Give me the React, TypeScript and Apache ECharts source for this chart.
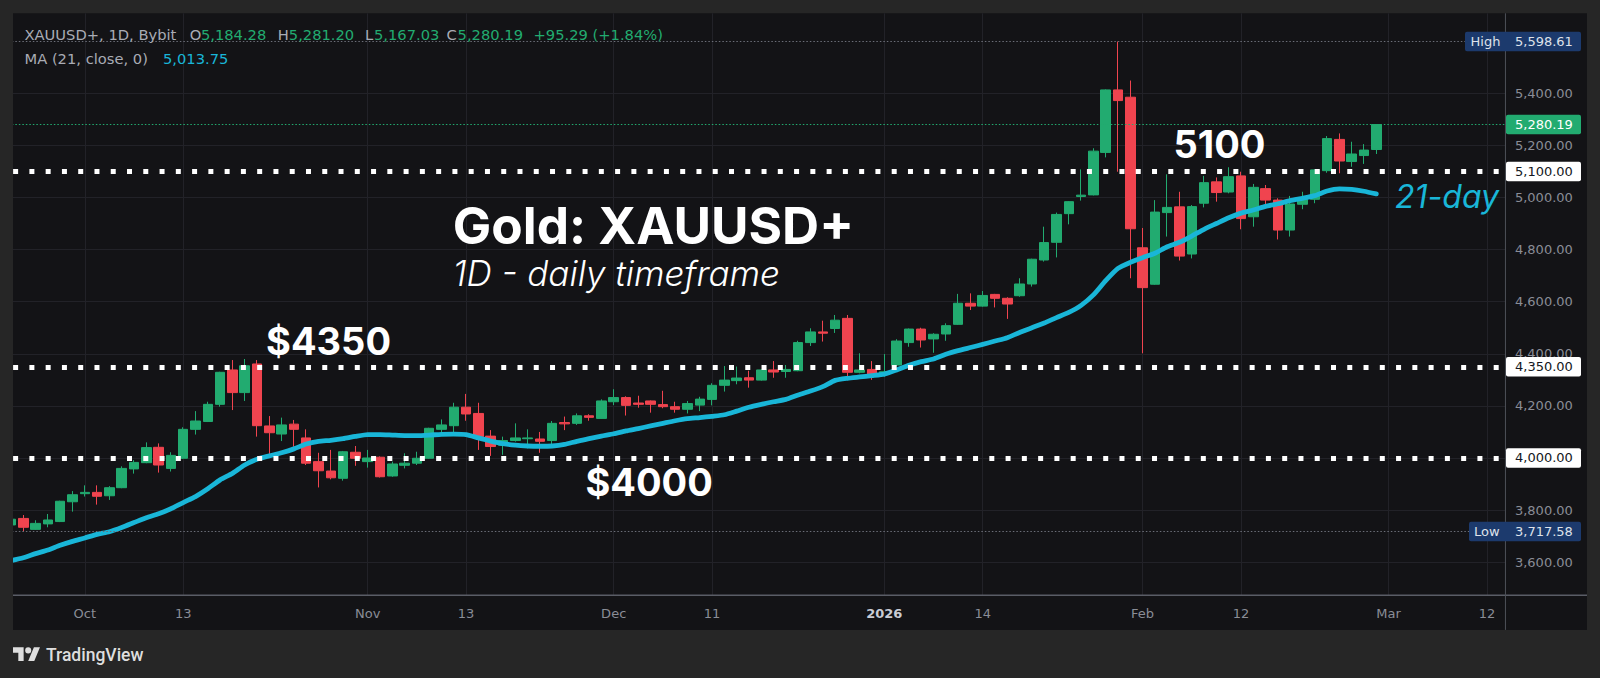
import React, { useEffect, useRef } from "react";
import * as echarts from "echarts";

// ---------- DATA ----------
const dates: string[] = [
  "2025-09-23","2025-09-24","2025-09-25","2025-09-26","2025-09-29","2025-09-30",
  "2025-10-01","2025-10-02","2025-10-03","2025-10-06","2025-10-07","2025-10-08","2025-10-09","2025-10-10",
  "2025-10-13","2025-10-14","2025-10-15","2025-10-16","2025-10-17",
  "2025-10-20","2025-10-21","2025-10-22","2025-10-23","2025-10-24",
  "2025-10-27","2025-10-28","2025-10-29","2025-10-30","2025-10-31",
  "2025-11-03","2025-11-04","2025-11-05","2025-11-06","2025-11-07",
  "2025-11-10","2025-11-11","2025-11-12","2025-11-13","2025-11-14",
  "2025-11-17","2025-11-18","2025-11-19","2025-11-20","2025-11-21",
  "2025-11-24","2025-11-25","2025-11-26","2025-11-27","2025-11-28",
  "2025-12-01","2025-12-02","2025-12-03","2025-12-04","2025-12-05",
  "2025-12-08","2025-12-09","2025-12-10","2025-12-11","2025-12-12",
  "2025-12-15","2025-12-16","2025-12-17","2025-12-18","2025-12-19",
  "2025-12-22","2025-12-23","2025-12-24","2025-12-26",
  "2025-12-29","2025-12-30","2025-12-31","2026-01-02",
  "2026-01-05","2026-01-06","2026-01-07","2026-01-08","2026-01-09",
  "2026-01-12","2026-01-13","2026-01-14","2026-01-15","2026-01-16",
  "2026-01-19","2026-01-20","2026-01-21","2026-01-22","2026-01-23",
  "2026-01-26","2026-01-27","2026-01-28","2026-01-29","2026-01-30",
  "2026-02-02","2026-02-03","2026-02-04","2026-02-05","2026-02-06",
  "2026-02-09","2026-02-10","2026-02-11","2026-02-12","2026-02-13",
  "2026-02-16","2026-02-17","2026-02-18","2026-02-19","2026-02-20",
  "2026-02-23","2026-02-24","2026-02-25","2026-02-26","2026-02-27",
  "2026-03-02","2026-03-03","2026-03-04","2026-03-05","2026-03-06",
  "2026-03-09","2026-03-10","2026-03-11","2026-03-12","2026-03-13",
];

const opens: number[] = [
  3743,3768,3726,3747,3756,3832,3863,3868,3855,3886,
  3958,3982,4041,3960,3999,4110,4140,4206,4338,4251,
  4361,4123,4092,4130,4077,3986,3950,3922,4022,3986,
  4003,3931,3972,3980,3999,4110,4124,4195,4171,4084,
  4049,4067,4074,4073,4067,4136,4133,4162,4152,4216,
  4232,4211,4219,4205,4197,4187,4203,4225,4279,4297,
  4308,4299,4338,4332,4335,4443,4484,4497,4536,4329,
  4340,4325,4357,4443,4495,4457,4476,4513,4594,4583,
  4628,4613,4623,4668,4760,4828,4938,5004,5010,5173,
  5413,5385,4807,4667,4942,4964,4783,4978,5060,5021,
  5083,4926,5034,4990,4875,4974,4993,5103,5223,5138,
  5161,5184.28,
];

const closes: number[] = [
  3765,3734,3749,3762,3834,3859,3868,3853,3886,3960,
  3983,4040,3973,4010,4110,4142,4206,4329,4251,4354,
  4124,4097,4127,4110,3980,3951,3924,4024,3999,4000,
  3928,3977,3980,3999,4114,4127,4195,4169,4082,4044,
  4067,4077,4077,4064,4133,4131,4162,4156,4219,4232,
  4202,4206,4206,4197,4187,4209,4226,4279,4299,4307,
  4299,4338,4330,4340,4443,4484,4479,4529,4329,4338,
  4316,4331,4449,4495,4453,4475,4508,4594,4583,4624,
  4613,4591,4668,4763,4827,4935,4984,5009,5178,5413,
  5372,4880,4654,4944,4962,4775,4965,5057,5019,5080,
  4919,5039,4990,4875,4975,4993,5106,5226,5140,5167,
  5182,5280.19,
];

const lows: number[] = [
  3735,3717.58,3724,3734,3754,3794,3852,3821,3839,3884,
  3940,3980,3944,3948,3996,4090,4138,4197,4184,4219,
  4082,4005,4065,4043,3973,3887,3918,3913,3970,3963,
  3925,3928,3960,3973,3997,4097,4097,4143,4031,4008,
  4012,4063,4037,4020,4041,4107,4127,4143,4151,4203,
  4163,4193,4174,4191,4174,4171,4180,4202,4255,4283,
  4270,4297,4308,4308,4333,4430,4447,4480,4299,4325,
  4300,4312,4355,4427,4424,4404,4450,4511,4568,4581,
  4578,4534,4619,4658,4754,4770,4897,4988,5008,5154,
  5099,4690,4402,4665,4850,4758,4766,4962,4984,5016,
  4878,4888,4965,4839,4850,4955,4978,5095,5093,5118,
  5129,5167.03,
];

const highs: number[] = [
  3770,3781,3761,3785,3836,3873,3895,3895,3892,3968,
  3992,4060,4056,4022,4118,4180,4216,4331,4376,4380,
  4376,4161,4155,4146,4110,4020,4031,4027,4046,4031,
  4006,3986,4018,4024,4116,4148,4212,4246,4212,4107,
  4082,4133,4110,4100,4142,4159,4171,4168,4225,4264,
  4237,4239,4221,4258,4216,4219,4235,4287,4353,4351,
  4335,4340,4372,4357,4450,4498,4527,4549,4549,4402,
  4372,4399,4456,4497,4500,4479,4517,4630,4632,4641,
  4630,4617,4690,4765,4888,4942,4986,5108,5189,5415,
  5598.61,5449,4883,4990,5089,5022,4971,5083,5077,5116,
  5099,5052,5048,4997,5006,5022,5108,5236,5246,5214,
  5205,5281.2,
];

const ma21: number[] = [
  3606,3617,3633,3647,3665,3680,3693,3707,3717,3733,
  3752,3771,3786,3805,3829,3852,3882,3916,3941,3973,
  3995,4008,4020,4035,4054,4064,4068,4074,4083,4090,
  4090,4088,4086,4086,4088,4091,4092,4090,4077,4065,
  4055,4049,4046,4045,4046,4052,4064,4074,4084,4093,
  4104,4113,4123,4133,4143,4151,4155,4160,4166,4180,
  4195,4206,4216,4225,4242,4257,4274,4298,4306,4311,
  4316,4322,4338,4356,4370,4380,4398,4412,4424,4436,
  4449,4462,4482,4500,4518,4539,4559,4586,4626,4681,
  4728,4751,4769,4786,4811,4828,4852,4878,4900,4922,
  4940,4952,4966,4976,4988,4997,5007,5025,5033,5031,
  5024,5013.75,
];

const tickDates: string[] = [
  "2025-10-01","2025-10-13","2025-11-03","2025-11-13","2025-12-01","2025-12-11",
  "2026-01-02","2026-01-14","2026-02-02","2026-02-12","2026-03-02","2026-03-12",
];
const tickLabels: string[] = ["Oct","13","Nov","13","Dec","11","2026","14","Feb","12","Mar","12"];
const priceTicks: number[] = [3600,3800,4000,4200,4400,4600,4800,5000,5200,5400];
const supportLevels: number[] = [5100, 4350, 4000];
const supportTexts: { text: string; level: number }[] = [
  { text: "5100", level: 5100 },
  { text: "$4350", level: 4350 },
  { text: "$4000", level: 4000 },
];
const highValue = 5598.61;
const lowValue = 3717.58;
const lastClose = 5280.19;

// ---------- STYLE ----------
const OUTER = "#262626";
const PANEL = "#131316";
const GRID = "#222228";
const UP = "#22ab70";
const DOWN = "#f0444f";
const CYAN = "#19b6d8";
const AXIS_TXT = "#8a8d96";
const HEAD_TXT = "#a9acb5";
const NAVY = "#1c3a6d";
const FONT_UI = '"DejaVu Sans", sans-serif';
const FONT_ANN = 'Inter, "Noto Sans", sans-serif';

const AXIS_X = 1505.45;
const AXIS_Y = 595.3;

echarts.graphic.registerShape(
  "tvlogo",
  echarts.graphic.extendPath(
    "M14 22H7V11H0V4h14v18zM28 22h-8l7.5-18h8L28 22zM24 8a4 4 0 1 1-8 0a4 4 0 1 1 8 0z",
    {}
  )
);

function fmt(v: number): string {
  const s = v.toFixed(2);
  const [i, d] = s.split(".");
  return i.replace(/\B(?=(\d{3})+(?!\d))/g, ",") + "." + d;
}

function txt(
  text: string, x: number, y: number, fill: string, size: number, family: string,
  weight: string = "normal", fstyle: string = "normal", z: number = 40
) {
  return {
    type: "text", z, silent: true,
    style: {
      text, x, y, fill, fontSize: size, lineHeight: size, fontFamily: family, fontWeight: weight, fontStyle: fstyle,
      align: "left", verticalAlign: "middle", textAlign: "left", textVerticalAlign: "middle",
    },
  };
}

function rect(x: number, y: number, w: number, h: number, fill: string, z: number, r = 0) {
  return { type: "rect", z, silent: true, shape: { x, y, width: w, height: h, r }, style: { fill } };
}

function buildOption() {
  const candles = opens.map((o, i) => [o, closes[i], lows[i], highs[i]]);
  const dotted = { width: 1, type: [1.5, 2] as number[] };
  return {
    animation: false,
    backgroundColor: "transparent",
    grid: { left: 4.85, right: 1600 - AXIS_X, top: 13.3, bottom: 678 - AXIS_Y, outerBoundsMode: "none" },
    xAxis: {
      type: "category",
      data: dates,
      boundaryGap: true,
      axisLine: { show: false },
      axisTick: { show: false },
      splitLine: { show: false },
      axisLabel: {
        interval: (_i: number, v: string) => tickDates.indexOf(v) >= 0,
        formatter: (v: string) => {
          const k = tickDates.indexOf(v);
          if (k < 0) return "";
          return tickLabels[k] === "2026" ? "{b|2026}" : tickLabels[k];
        },
        color: AXIS_TXT,
        fontFamily: FONT_UI,
        fontSize: 13,
        lineHeight: 13,
        margin: 11.5,
        rich: {
          b: { fontWeight: "bold", color: "#c9ccd4", fontFamily: FONT_UI, fontSize: 13, lineHeight: 13 },
        },
      },
    },
    yAxis: {
      type: "value",
      position: "right",
      min: 3472.9,
      max: 5707.1,
      axisLine: { show: false },
      axisTick: { show: false },
      splitLine: { show: false },
      axisLabel: {
        customValues: priceTicks,
        formatter: (v: number) => fmt(v),
        color: AXIS_TXT,
        fontFamily: FONT_UI,
        fontSize: 13,
        margin: 9.5,
      },
    },
    series: [
      {
        type: "candlestick",
        data: candles,
        barWidth: 10,
        z: 2,
        silent: true,
        itemStyle: { color: UP, color0: DOWN, borderColor: UP, borderColor0: DOWN, borderWidth: 1 },
        markLine: {
          silent: true,
          symbol: "none",
          z: 1,
          animation: false,
          label: { show: false },
          lineStyle: { color: GRID, width: 1, type: "solid" },
          data: [
            ...priceTicks.map((v) => ({ yAxis: v })),
            ...tickDates.map((d) => ({ xAxis: d })),
          ],
        },
      },
      {
        type: "line",
        data: ma21,
        showSymbol: false,
        symbol: "none",
        smooth: 0.2,
        z: 3,
        silent: true,
        lineStyle: { color: CYAN, width: 4.8, cap: "round", join: "round" },
        markLine: {
          silent: true,
          symbol: "none",
          z: 6,
          animation: false,
          label: { show: false },
          data: [
            { yAxis: highValue, lineStyle: { color: "#6b6e78", ...dotted } },
            { yAxis: lowValue, lineStyle: { color: "#6b6e78", ...dotted } },
            { yAxis: lastClose, lineStyle: { color: UP, ...dotted } },
            ...supportLevels.map((v) => ({
              yAxis: v,
              lineStyle: { color: "#ffffff", width: 5, type: [5, 11.27], dashOffset: 7.62, cap: "butt" },
            })),
          ],
        },
      },
    ],
  };
}

function buildGraphics(py: (v: number) => number) {
  const els: any[] = [];
  // panel
  els.push(rect(13, 13.3, 1574, 616.7, PANEL, -10));
  // left cover (hides the partially drawn first bar outside the panel)
  els.push(rect(0, 0, 13, 678, OUTER, 100));
  // axis lines
  els.push({ type: "line", z: 20, silent: true, shape: { x1: 13, y1: AXIS_Y, x2: 1587, y2: AXIS_Y }, style: { stroke: "#5a5d66", lineWidth: 1.5 } });
  els.push({ type: "line", z: 20, silent: true, shape: { x1: AXIS_X, y1: 13.3, x2: AXIS_X, y2: 629.9 }, style: { stroke: "#4e5159", lineWidth: 1 } });

  // support badges
  supportLevels.forEach((v) => {
    const y = py(v);
    els.push(rect(1506, y - 9.7, 75, 19.4, "#ffffff", 30, 2));
    els.push(txt(fmt(v), 1515, y, "#131722", 13, FONT_UI, "normal", "normal", 31));
  });
  // current price badge
  {
    const y = py(lastClose);
    els.push(rect(1506, y - 9.7, 75, 19.4, UP, 30, 2));
    els.push(txt(fmt(lastClose), 1515, y, "#ffffff", 13, FONT_UI, "normal", "normal", 31));
  }
  // high / low badges
  {
    const y = py(highValue);
    els.push(rect(1465, y - 9.7, 116, 19.4, NAVY, 30, 2));
    els.push(txt("High", 1470.5, y, "#dfe2ea", 13, FONT_UI, "normal", "normal", 31));
    els.push(txt(fmt(highValue), 1515, y, "#dfe2ea", 13, FONT_UI, "normal", "normal", 31));
  }
  {
    const y = py(lowValue);
    els.push(rect(1469, y - 9.7, 112, 19.4, NAVY, 30, 2));
    els.push(txt("Low", 1474, y, "#dfe2ea", 13, FONT_UI, "normal", "normal", 31));
    els.push(txt(fmt(lowValue), 1515, y, "#dfe2ea", 13, FONT_UI, "normal", "normal", 31));
  }

  // header
  const hs = 14.7;
  els.push(txt("XAUUSD+, 1D, Bybit", 24.5, 34.6, HEAD_TXT, hs, FONT_UI));
  els.push(txt("O", 189.7, 34.6, HEAD_TXT, hs, FONT_UI));
  els.push(txt("5,184.28", 200.9, 34.6, UP, hs, FONT_UI));
  els.push(txt("H", 277.7, 34.6, HEAD_TXT, hs, FONT_UI));
  els.push(txt("5,281.20", 288.8, 34.6, UP, hs, FONT_UI));
  els.push(txt("L", 365, 34.6, HEAD_TXT, hs, FONT_UI));
  els.push(txt("5,167.03", 374, 34.6, UP, hs, FONT_UI));
  els.push(txt("C", 446.4, 34.6, HEAD_TXT, hs, FONT_UI));
  els.push(txt("5,280.19", 457.6, 34.6, UP, hs, FONT_UI));
  els.push(txt("+95.29 (+1.84%)", 533.5, 34.6, UP, hs, FONT_UI));
  els.push(txt("MA (21, close, 0)", 24.5, 58, HEAD_TXT, hs, FONT_UI));
  els.push(txt("5,013.75", 163, 58, CYAN, hs, FONT_UI));

  // annotations
  els.push(txt("Gold: XAUUSD+", 452.8, 225, "#ffffff", 51.3, FONT_ANN, "bold"));
  els.push(txt("1D - daily timeframe", 452.8, 273, "#ffffff", 35, FONT_ANN, "300", "italic"));
  const annX: Record<string, number> = { "5100": 1173.5, "$4350": 266, "$4000": 585.4 };
  const annDy: Record<string, number> = { "5100": -27.8, "$4350": -26, "$4000": 24 };
  supportTexts.forEach((s) => {
    els.push(txt(s.text, annX[s.text], py(s.level) + annDy[s.text], "#ffffff", 38, FONT_ANN, "bold"));
  });
  els.push(txt("21-day", 1395, 196.7, CYAN, 32, FONT_ANN, "normal", "italic"));

  // TradingView logo
  els.push({ type: "tvlogo", z: 40, silent: true, x: 13, y: 644.3, scaleX: 0.76, scaleY: 0.76, style: { fill: "#dedede" } });
  els.push(txt("TradingView", 46, 654.6, "#dedede", 17.5, 'Roboto, "DejaVu Sans", sans-serif', "500"));
  return els;
}

export default function App() {
  const ref = useRef<HTMLDivElement>(null);
  useEffect(() => {
    document.body.style.margin = "0";
    document.body.style.background = OUTER;
    const chart = echarts.init(ref.current as HTMLDivElement, null, { renderer: "svg", width: 1600, height: 678 });
    chart.setOption(buildOption() as any);
    const py = (v: number) => chart.convertToPixel({ yAxisIndex: 0 }, v) as number;
    chart.setOption({ graphic: { elements: buildGraphics(py) } } as any);
    return () => chart.dispose();
  }, []);
  return <div ref={ref} style={{ width: 1600, height: 678, background: OUTER }} />;
}
